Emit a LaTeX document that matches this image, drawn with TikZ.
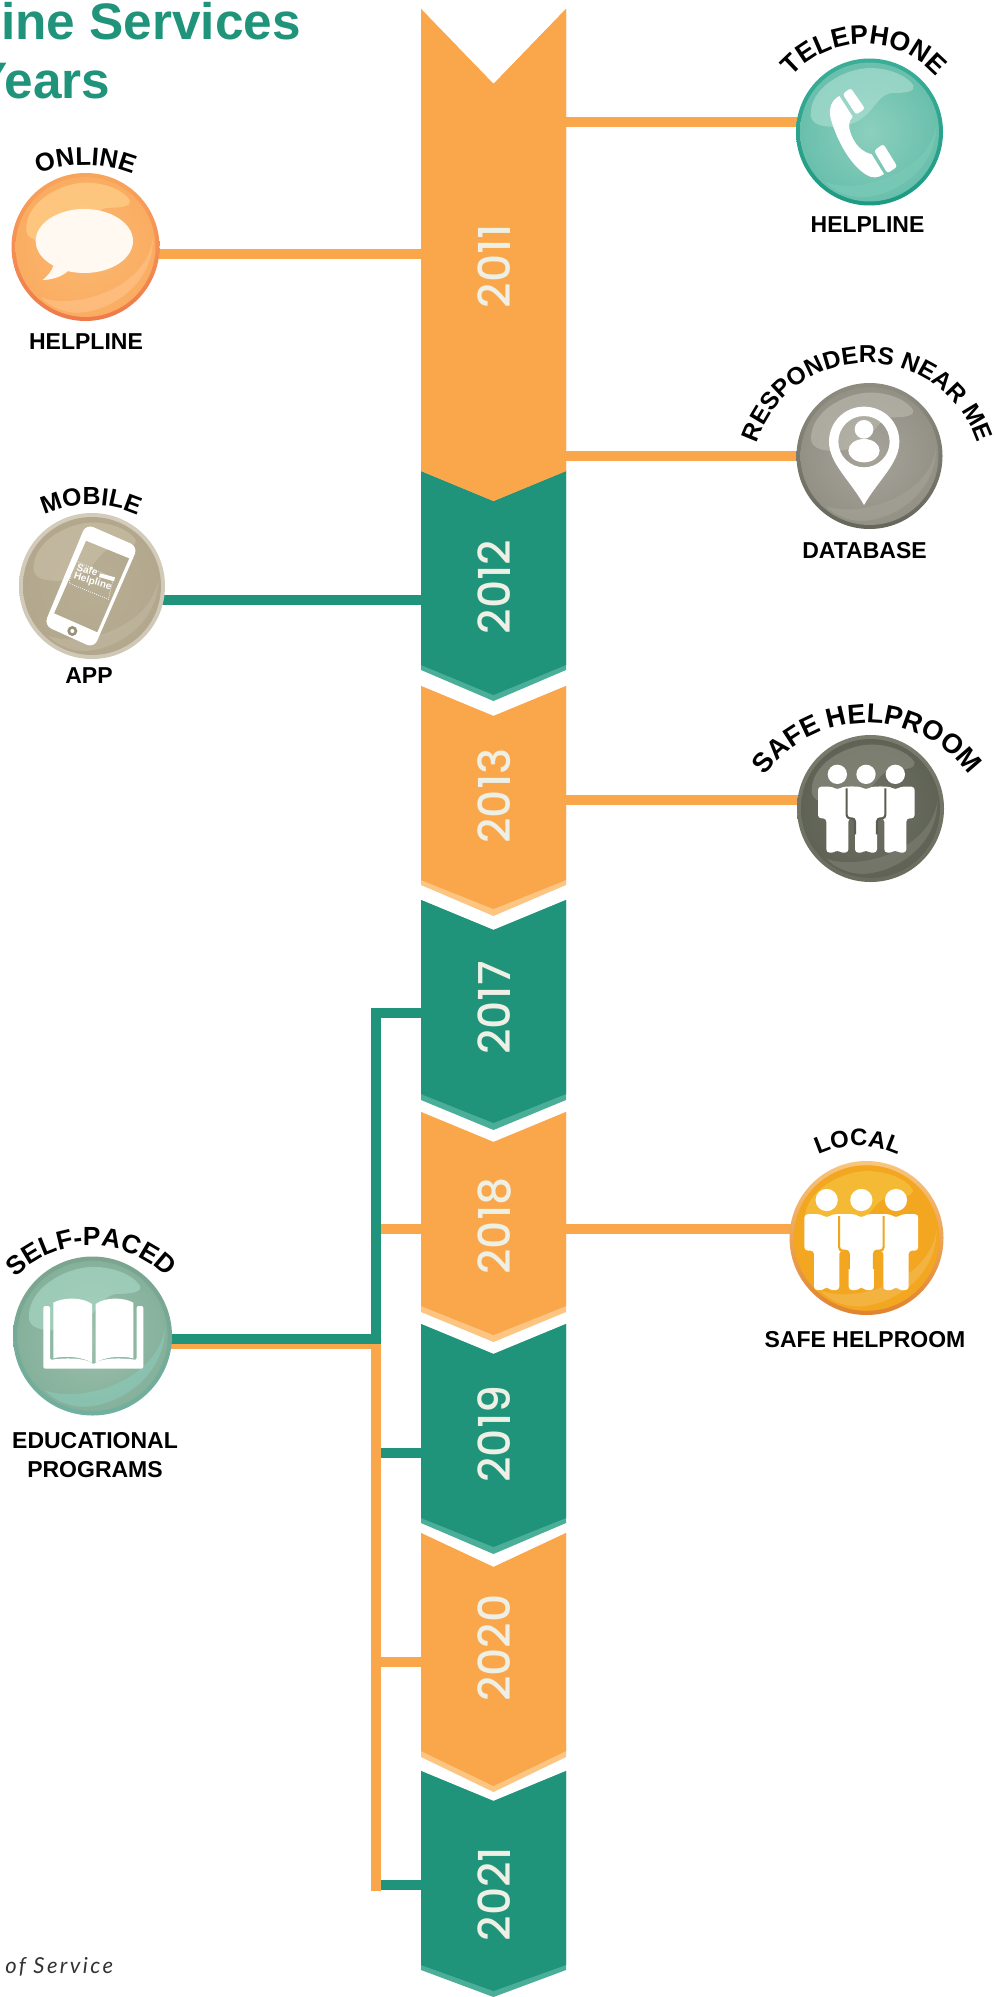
\documentclass[tikz,border=0pt]{standalone}
\usepackage{fontspec}
\setmainfont{Liberation Sans}
\newfontfamily\arcfont{Liberation Sans Bold}
\newfontfamily\yearfont{Poppins Medium}
\newfontfamily\notefont[LetterSpace=11]{Lato}
\usetikzlibrary{calc,decorations.text,backgrounds}
\definecolor{oran}{HTML}{FAA64B}
\definecolor{oranL}{HTML}{FDC582}
\definecolor{teal}{HTML}{1F947A}
\definecolor{tealL}{HTML}{4BAE98}
\definecolor{yearc}{HTML}{EEF0E6}
\definecolor{appbtn}{HTML}{9A917B}
\definecolor{gcA}{HTML}{5A5D50}
\definecolor{gcB}{HTML}{F2A51E}
\colorlet{rimT}{white}\colorlet{rimB}{white}\colorlet{inC}{white}\colorlet{inO}{white}\colorlet{hlc}{white}\colorlet{crc}{white}
\pgfdeclareradialshading[inC,inO]{ballsh}{\pgfpointorigin}{color(0bp)=(inC);color(50bp)=(inO)}
\tikzset{
  tealline/.style={draw=teal,line width=7.5pt,miter limit=10},
  oranline/.style={draw=oran,line width=7.5pt,miter limit=10},
  bandbox/.style={rectangle,inner sep=0pt,minimum width=108.75pt},
  yearlabel/.style={rotate=90,inner sep=0pt,text=yearc,text height=23pt,text depth=0pt,font=\yearfont\fontsize{33pt}{33pt}\selectfont},
  caplabel/.style={inner sep=0pt,text=black,font=\bfseries\fontsize{17.25pt}{19pt}\selectfont},
  titlelabel/.style={inner sep=0pt,text=teal,font=\bfseries\fontsize{38.5pt}{40pt}\selectfont},
  ballnode/.style={circle,inner sep=0pt,top color=rimT,bottom color=rimB},
}
\newcommand\ballcolors[6]{\definecolor{rimT}{HTML}{#1}\definecolor{rimB}{HTML}{#2}\definecolor{inC}{HTML}{#3}\definecolor{inO}{HTML}{#4}\definecolor{hlc}{HTML}{#5}\definecolor{crc}{HTML}{#6}}
\newcommand\gloss[4]{%
  \node[ballnode,minimum size=#4*1.5pt] (#1) at (#2,#3) {};
  \begin{scope}[shift={(#2,#3)},scale=#4]
    \shade[shading=ballsh] (0,0) circle (0.945);
    \fill[hlc,opacity=.6] (-.8,-.22) .. controls (-.82,-.6) and (-.35,-.86) .. (0,-.87) .. controls (.25,-.87) and (.5,-.78) .. (.6,-.63) .. controls (.62,-.55) and (.5,-.53) .. (.3,-.53) .. controls (.05,-.5) and (.05,-.1) .. (-.45,-.07) .. controls (-.65,-.07) and (-.78,-.1) .. (-.8,-.22) -- cycle;
    \fill[crc,opacity=.6] (.91,-.1) .. controls (.91,.5) and (.35,.87) .. (-.1,.89) .. controls (-.3,.89) and (-.5,.8) .. (-.6,.68) .. controls (-.2,.85) and (.8,.6) .. (.91,-.1) -- cycle;
  \end{scope}}
\newcommand\arctxt[7]{%
  \path[decorate,decoration={text along path,text align=center,text={|\arcfont\fontsize{#6pt}{#6pt}\selectfont|#7}}]
    ($(#1,#2)+(#4-#5:#3)$) arc (#4-#5:#4+#5:#3);}
\newcommand\chev[9]{%
  \fill[#9] (421,#2) -- (493.5,#3) -- (566,#2) -- (566,#6) -- (493.5,#7) -- (421,#6) -- cycle;
  \fill[#8] (421,#2) -- (493.5,#3) -- (566,#2) -- (566,#4) -- (493.5,#5) -- (421,#4) -- cycle;
  \node[bandbox,minimum height={(#5-#2)*.75pt}] (#1) at (493.5,{(#2+#5)/2}) {};}
% a standing figure: head, torso, legs with a small notch between the feet
\newcommand\person[3]{%
  \begin{scope}[shift={(#1,#2)},scale=#3]
    \fill[white] (0,0) circle (29);
    \fill[white,rounded corners=2.5pt] (-58,37) -- (-15,37) -- (0,47) -- (15,37) -- (58,37) -- (58,132) -- (33,132) -- (33,235) -- (7,235) -- (0,224) -- (-7,235) -- (-33,235) -- (-33,132) -- (-58,132) -- cycle;
  \end{scope}}
\newcommand\personedge[4]{%
  \begin{scope}[shift={(#1,#2)},scale=#3]
    \draw[#4,line width=1.6pt,rounded corners=2.5pt] (-58,42) -- (-58,132) -- (-33,132) -- (-33,180);
    \draw[#4,line width=1.6pt,rounded corners=2.5pt] (58,42) -- (58,132) -- (33,132) -- (33,180);
  \end{scope}}
\begin{document}
\begin{tikzpicture}[x=0.75pt,y=-0.75pt]
\useasboundingbox (0,0) rectangle (995,1997);
\begin{pgfonlayer}{background}
  \fill[white] (0,0) rectangle (995,1997);
\end{pgfonlayer}
% title
\begin{scope}
  \clip (0,0) rectangle (995,1997);
  \node[titlelabel,anchor=base west] (title1) at (1,40) {ine Services};
  \node[titlelabel,anchor=base east] (title2) at (110.5,99) {Years};
\end{scope}
\node[anchor=base west,inner sep=0pt,text=black!80,font=\notefont\itshape\fontsize{16.5pt}{18pt}\selectfont] (note) at (5,1973) {of Service};
% chevrons
\chev{b2012}{471}{501}{665}{695}{670}{701}{teal}{tealL}
\chev{b2011}{9}{84}{471}{501}{471}{501}{oran}{oran}
\chev{b2013}{686}{716}{880}{909}{885}{916}{oran}{oranL}
\chev{b2017}{900}{930}{1094}{1123}{1100}{1130}{teal}{tealL}
\chev{b2018}{1112}{1142}{1306}{1335}{1312}{1342}{oran}{oranL}
\chev{b2019}{1324}{1354}{1518}{1547}{1523}{1554}{teal}{tealL}
\chev{b2020}{1533}{1567}{1751}{1786}{1757}{1792}{oran}{oranL}
\chev{b2021}{1771}{1801}{1965}{1991}{1970}{1997}{teal}{tealL}
\node[yearlabel] (y2011) at (495,266) {2011};
\node[yearlabel] (y2012) at (495,587) {2012};
\node[yearlabel] (y2013) at (495,796) {2013};
\node[yearlabel] (y2017) at (495,1008) {2017};
\node[yearlabel] (y2018) at (495,1226) {2018};
\node[yearlabel] (y2019) at (495,1434) {2019};
\node[yearlabel] (y2020) at (495,1648) {2020};
\node[yearlabel] (y2021) at (495,1894) {2021};
% balls
\ballcolors{F8A55C}{F0794A}{FBB873}{F8A24F}{FFD590}{FFC58B}
\gloss{onl}{85.5}{247}{74}
\ballcolors{3AAE98}{1D9A82}{8CCFBE}{47B09A}{B0E0D5}{7CCBB9}
\gloss{tel}{869.5}{132}{73.5}
\ballcolors{8F8D80}{66665A}{A7A59B}{7F7D71}{BDBBAF}{A5A398}
\gloss{res}{869.5}{456}{73}
\ballcolors{D3CCBA}{CFC8B6}{B8AE94}{ADA287}{CBC1A8}{C2B9A2}
\gloss{mob}{92}{586}{73}
\ballcolors{7A7C6E}{6A6C5E}{6F7264}{4F5346}{8C8F80}{7E8174}
\gloss{saf}{870.5}{808.5}{73.5}
\ballcolors{F9C57C}{E08330}{F3A821}{F2A51E}{F7C744}{F4BB58}
\gloss{loc}{866.5}{1238}{77}
\ballcolors{7DA48F}{6FB09F}{9DBFAC}{6DA38B}{AADBC9}{8BCABA}
\gloss{sel}{92.5}{1336}{79.5}
% icons
\begin{scope}[shift={(0,130)},scale=0.33333]
  \fill[white!95!orange] (253,333) ellipse (146 and 96);
  \fill[white!95!orange] (160,408) .. controls (155,425) and (140,440) .. (128,450) .. controls (150,450) and (185,442) .. (205,422) -- cycle;
\end{scope}
\begin{scope}[shift={(770,10)},scale=0.33333]
  \fill[white,rounded corners=2pt] (218,252) -- (242,234) -- (285,296) -- (258,314) -- cycle;
  \fill[white,rounded corners=2pt] (312,422) -- (340,402) -- (382,470) -- (352,490) -- cycle;
  \fill[white] (208,258) -- (248,320) .. controls (235,335) and (235,350) .. (242,370) .. controls (255,405) and (275,425) .. (305,433) -- (342,492) .. controls (325,505) and (305,505) .. (290,495) .. controls (240,465) and (200,390) .. (182,325) .. controls (175,295) and (185,270) .. (208,258) -- cycle;
\end{scope}
\begin{scope}[shift={(740,330)},scale=0.33333]
  \fill[white,even odd rule] (372,525) .. controls (330,450) and (267,400) .. (267,335) .. controls (267,275) and (315,230) .. (372,230) .. controls (430,230) and (478,275) .. (478,335) .. controls (478,400) and (415,450) .. (372,525) -- cycle (372,335) circle (77);
  \fill[white] (372,298) circle (28);
  \fill[white] (372,362) ellipse (47 and 35);
\end{scope}
\begin{scope}[shift={(0,470)},scale=0.33333]
  \fill[white,even odd rule,rounded corners=6pt] (258,162) -- (414,230) -- (282,534) -- (132,466) -- cycle
     [sharp corners] (258,212) -- (388,265) -- (292,487) -- (162,430) -- cycle;
  \fill[white] (335,205) circle (2.5);
  \draw[white,line width=1pt] (322,212) -- (340,218);
  \fill[appbtn] (217,483) circle (15);
  \fill[white] (217,483) circle (6);
  \draw[white,line width=.6pt,densely dotted] (218,268) -- (340,325) -- (325,388) -- (208,340) -- cycle;
  \node[rotate=-17,inner sep=0pt,text=white,font=\bfseries\fontsize{7.5pt}{8pt}\selectfont] (appa) at (262,300) {Safe};
  \node[rotate=-17,inner sep=0pt,text=white,font=\bfseries\fontsize{7.5pt}{8pt}\selectfont] (appb) at (278,335) {Helpline};
  \fill[white] (300,310) -- (345,322) -- (342,334) -- (297,321) -- cycle;
\end{scope}
\begin{scope}[shift={(740,690)},scale=0.33333]
  \person{292}{253}{1}
  \person{466}{253}{1}
  \person{378}{253}{1}
  \personedge{378}{253}{1}{gcA}
\end{scope}
\begin{scope}[shift={(760,1110)},scale=0.33333]
  \person{200}{270}{1.15}
  \person{408}{270}{1.15}
  \person{304}{270}{1.15}
  \personedge{304}{270}{1.15}{gcB}
\end{scope}
\begin{scope}[shift={(0,1220)},scale=0.33333]
  \fill[white] (160,248) .. controls (190,232) and (245,230) .. (276,252) -- (276,428) .. controls (250,412) and (200,405) .. (160,415) -- cycle;
  \fill[white] (287,252) .. controls (318,230) and (372,232) .. (400,248) -- (400,415) .. controls (360,405) and (310,412) .. (287,428) -- cycle;
  \fill[white,rounded corners=1.5pt] (130,258) -- (150,258) -- (150,420) .. controls (200,412) and (260,415) .. (281,434) .. controls (300,415) and (360,412) .. (410,420) -- (410,258) -- (430,258) -- (430,446) -- (130,446) -- cycle;
\end{scope}
% connectors
\coordinate (aOnl) at (421,254);
\coordinate (aTel) at (566,122);
\coordinate (aRes) at (566,456);
\coordinate (aMob) at (421,600);
\coordinate (aSaf) at (566,800);
\coordinate (aLoc) at (566,1229);
\coordinate (l2017) at (421,1013);
\coordinate (l2018) at (421,1229);
\coordinate (l2019) at (421,1453);
\coordinate (l2020) at (421,1661.5);
\coordinate (l2021) at (421,1885);
\coordinate (trunkT) at (376,1013);
\coordinate (trunkO) at (376,1891);
\coordinate (tealJ) at (376,1339);
\coordinate (oranJ) at (376,1343.5);
\begin{pgfonlayer}{background}
  \draw[oranline] (aOnl) -- (aOnl -| onl.center);
  \draw[oranline] (aTel) -- (aTel -| tel.center);
  \draw[oranline] (aRes) -- (aRes -| res.center);
  \draw[tealline] (aMob) -- (aMob -| mob.center);
  \draw[oranline] (aSaf) -- (aSaf -| saf.center);
  \draw[oranline] (aLoc) -- (aLoc -| loc.center);
  \draw[tealline] (l2019) -- (l2019 -| trunkO);
  \draw[tealline] (l2021) -- (l2021 -| trunkO);
  \draw[oranline] (l2018) -- (l2018 -| trunkO);
  \draw[oranline] (l2020) -- (l2020 -| trunkO);
  \draw[oranline] (sel.center |- oranJ) -- (oranJ) -- (trunkO);
  \draw[tealline] (l2017) -- (trunkT) -- (tealJ) -- (sel.center |- tealJ);
\end{pgfonlayer}
% curved labels
\arctxt{85.5}{290}{125}{-90}{40}{19.2}{ONLINE}
\arctxt{864}{140}{96}{-90}{70}{20}{TELEPHONE}
\arctxt{867}{479}{116}{-90}{85}{18.4}{RESPONDERS NEAR ME}
\arctxt{91}{616}{111}{-90}{45}{18.6}{MOBILE}
\arctxt{867}{849}{126}{-90}{70}{20.5}{SAFE HELPROOM}
\arctxt{858}{1238}{92}{-90}{45}{17.9}{LOCAL}
\arctxt{91}{1352}{106}{-90}{60}{19.7}{SELF-PACED}
% straight labels
\node[caplabel] (t1) at (86,341.5) {HELPLINE};
\node[caplabel] (t2) at (867.5,224.5) {HELPLINE};
\node[caplabel] (t3) at (864.5,551) {DATABASE};
\node[caplabel] (t4) at (89,676) {APP};
\node[caplabel] (t5) at (865,1340) {SAFE HELPROOM};
\node[caplabel] (t6) at (95,1441) {EDUCATIONAL};
\node[caplabel] (t7) at (95,1469.5) {PROGRAMS};
\end{tikzpicture}
\end{document}
